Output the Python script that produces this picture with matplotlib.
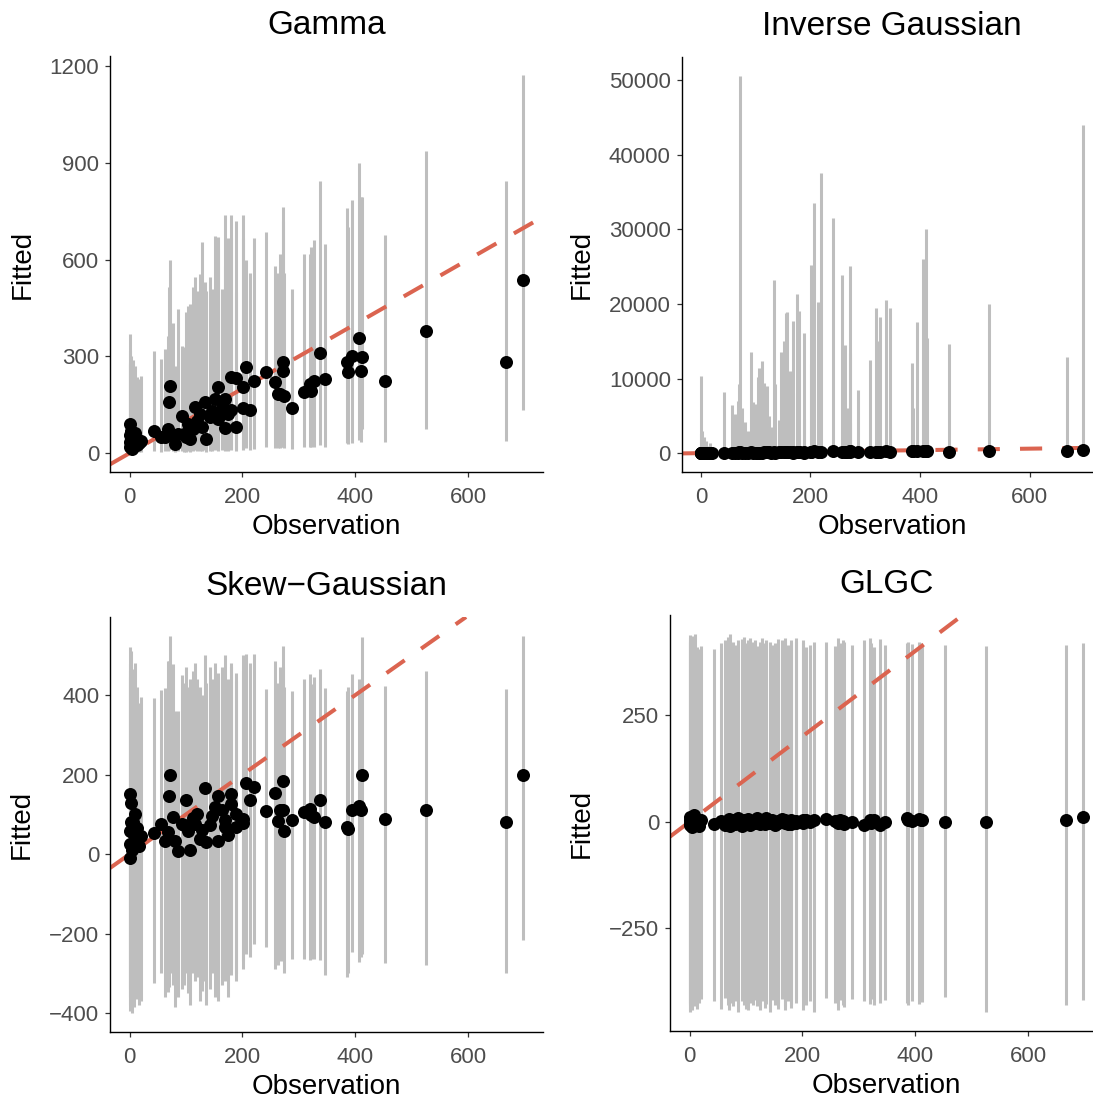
import matplotlib
matplotlib.use('Agg')
import matplotlib.pyplot as plt

plt.rcParams['font.family'] = ['Liberation Sans', 'DejaVu Sans']

# observed values (shared by all four models)
obs = [0, 0, 1, 1, 2, 3, 4, 5, 6, 8, 10, 13, 16, 20,
       43, 56, 62, 68, 70, 72, 76, 80, 86,
       92, 96, 100, 104, 107, 112, 115, 120, 124, 128, 133, 135, 142, 146, 151,
       156, 157, 163, 169, 169, 175, 180, 180, 188, 189, 201, 201, 207, 213, 220,
       242, 257, 263, 267, 272, 272, 273, 287,
       309, 319, 322, 327, 337, 346, 386, 387, 395, 406, 411, 412,
       452, 525, 668, 698]

# Gamma model: fitted value and interval
gamma_fit = [18, 35, 55, 90, 28, 69, 12, 45, 22, 40, 62, 25, 30, 38,
             69, 49, 49, 74, 160, 207, 54, 28, 60,
             116, 60, 49, 90, 43, 74, 142, 100, 121, 80, 157, 43, 111, 130, 168,
             204, 106, 140, 168, 78, 120, 235, 133, 232, 82, 139, 204, 268, 133, 223,
             252, 219, 183, 183, 283, 254, 178, 139,
             188, 214, 193, 224, 310, 230, 281, 253, 302, 357, 255, 297,
             224, 380, 284, 537]
gamma_lo = [2, 3, 4, 6, 2, 5, 1, 3, 2, 4, 5, 3, 3, 4,
            5, 4, 5, 6, 10, 12, 5, 3, 6,
            8, 3, 4, 6, 3, 5, 9, 7, 8, 5, 10, 3, 7, 8, 11,
            12, 7, 9, 11, 5, 8, 14, 9, 14, 5, 9, 12, 16, 9, 14,
            18, 17, 15, 16, 20, 20, 17, 12,
            18, 20, 18, 20, 25, 20, 30, 28, 32, 40, 35, 74,
            33, 74, 38, 133]
gamma_hi = [318, 369, 276, 281, 235, 300, 250, 290, 260, 240, 270, 235, 230, 240,
            318, 292, 323, 364, 514, 600, 405, 271, 447,
            333, 328, 437, 457, 462, 514, 545, 504, 556, 654, 530, 504, 545, 509, 674,
            669, 633, 509, 737, 581, 666, 737, 666, 720, 500, 737, 666, 600, 560, 666,
            687, 581, 560, 618, 762, 720, 560, 509,
            618, 618, 638, 662, 843, 649, 759, 700, 786, 899, 793, 793,
            677, 938, 843, 1173]

# Inverse Gaussian model
ig_fit = [20, 35, 50, 75, 30, 55, 15, 40, 25, 35, 55, 25, 30, 35,
          60, 45, 45, 65, 140, 180, 50, 25, 55,
          100, 55, 45, 80, 40, 65, 125, 90, 105, 70, 140, 40, 95, 115, 150,
          180, 95, 125, 150, 70, 105, 210, 120, 205, 75, 125, 180, 240, 120, 200,
          225, 195, 165, 165, 250, 225, 160, 125,
          170, 190, 170, 200, 275, 205, 250, 225, 270, 320, 230, 265,
          200, 340, 255, 480]
ig_lo = [1, 2, 3, 4, 2, 3, 1, 2, 1, 2, 3, 1, 2, 2,
         3, 2, 2, 3, 6, 8, 2, 1, 3,
         5, 3, 2, 4, 2, 3, 6, 4, 5, 3, 7, 2, 5, 6, 7,
         9, 5, 6, 7, 3, 5, 10, 6, 10, 4, 6, 9, 12, 6, 10,
         11, 9, 8, 8, 12, 11, 8, 6,
         8, 9, 8, 10, 13, 10, 12, 11, 13, 16, 11, 13,
         10, 17, 12, 24]
ig_hi = [700, 1500, 2600, 10340, 2000, 2990, 1200, 2200, 1800, 800, 1600, 900, 1300, 600,
         8240, 6460, 5210, 7000, 9220, 50580, 6100, 4190, 3000,
         13550, 6800, 6550, 10200, 11450, 12340, 9450, 9000, 5000, 3500, 23260, 9220, 4460, 13550, 15020,
         18800, 18940, 11000, 17780, 8000, 21340, 19000, 2500, 16130, 4630, 25270, 12000, 33510, 20280, 37610,
         31460, 23840, 14440, 6000, 25040, 4000, 13460, 8420,
         12480, 19470, 15020, 18270, 20590, 19430, 12120, 6000, 17560, 26070, 30030, 15460,
         14570, 20010, 12920, 43980]

# Skew-Gaussian model
sg_fit = [-9, 26, 59, 151, 80, 128, 11, 53, 80, 33, 100, 65, 20, 45,
          53, 76, 33, 55, 147, 199, 93, 33, 8,
          76, 74, 136, 59, 11, 90, 76, 100, 38, 60, 166, 30, 72, 95, 118,
          147, 34, 110, 69, 85, 49, 151, 125, 101, 68, 89, 78, 178, 136, 168,
          108, 153, 83, 110, 185, 111, 58, 86,
          105, 114, 99, 94, 136, 82, 68, 64, 111, 122, 110, 200,
          89, 110, 80, 200]
sg_lo = [-395, -380, -360, -340, -370, -350, -400, -375, -360, -385, -350, -365, -380, -370,
         -325, -300, -359, -346, -334, -300, -330, -384, -359,
         -340, -330, -300, -350, -380, -300, -320, -310, -370, -345, -320, -380, -340, -300, -360,
         -310, -370, -330, -320, -300, -360, -305, -290, -300, -320, -290, -270, -250, -260, -225,
         -233, -288, -280, -270, -233, -270, -300, -263,
         -263, -267, -263, -265, -267, -305, -309, -300, -246, -271, -260, -250,
         -275, -279, -298, -217]
sg_hi = [460, 478, 445, 520, 470, 510, 430, 455, 465, 440, 480, 420, 380, 395,
         392, 413, 419, 486, 486, 549, 478, 360, 360,
         450, 430, 470, 420, 440, 460, 480, 440, 420, 400, 500, 430, 470, 440, 480,
         455, 445, 470, 500, 430, 440, 470, 480, 455, 435, 460, 500, 503, 480, 503,
         415, 486, 430, 470, 524, 470, 420, 411,
         440, 453, 428, 445, 465, 419, 411, 420, 453, 440, 430, 545,
         423, 461, 415, 549]

# GLGC model
glgc_fit = [5, -3, 12, -8, 2, 8, -12, 6, -5, 15, -2, 3, -10, 4,
            -6, 2, -8, -4, 7, -11, 3, -6, 8,
            -9, 4, -3, 6, -7, 2, -4, 8, -5, 3, -6, 9, -3, 5, -7,
            2, -4, 6, -2, 4, -5, 3, -6, 1, -3, 5, -2, 4, -1, 3,
            6, 2, -4, 5, -3, 1, -6, 0,
            -7, 3, -2, 4, -8, -1, 9, 5, 2, 6, 3, 4,
            0, -1, 5, 10]
glgc_lo = [-440, -425, -445, -430, -420, -436, -440, -415, -428, -432, -410, -438, -425, -415,
           -420, -438, -412, -430, -440, -425, -432, -420, -445,
           -420, -430, -438, -440, -425, -430, -418, -432, -442, -420, -436, -428, -445, -418, -430,
           -438, -425, -415, -440, -432, -420, -428, -436, -425, -415, -440, -410, -430, -420, -445,
           -412, -425, -440, -418, -430, -420, -435, -415,
           -420, -428, -415, -430, -425, -418, -425, -430, -420, -428, -415, -422,
           -411, -446, -430, -418]
glgc_hi = [430, 420, 438, 425, 432, 428, 415, 435, 418, 422, 440, 410, 405, 412,
           405, 418, 425, 432, 430, 440, 420, 415, 425,
           428, 432, 418, 425, 430, 420, 426, 412, 420, 430, 418, 426, 422, 415, 418,
           428, 410, 425, 420, 430, 415, 418, 425, 420, 430, 418, 425, 410, 415, 420,
           420, 412, 430, 418, 425, 405, 420, 415,
           425, 430, 418, 410, 428, 415, 418, 422, 416, 420, 418, 414,
           415, 411, 414, 419]

W, H = 1093, 1099


def box(left, top, right, bottom):
    # pixel edges -> figure fraction
    return [left / W, 1 - bottom / H, (right - left) / W, (bottom - top) / H]


def draw_panel(ax, fit, lo, hi, title, yticks):
    ax.vlines(obs, lo, hi, color='#BEBEBE', lw=2.2, zorder=1)
    ax.scatter(obs, fit, s=88, color='black', linewidths=0, zorder=3)
    ax.margins(0.05)
    ax.axline((0, 0), slope=1, color='#DB6450', lw=2.9, ls=(0, (5.5, 5)), zorder=2)
    ax.set_xticks([0, 200, 400, 600])
    ax.set_yticks(yticks)
    for side in ['top', 'right']:
        ax.spines[side].set_visible(False)
    for side in ['left', 'bottom']:
        ax.spines[side].set_linewidth(1.0)
        ax.spines[side].set_color('black')
    ax.tick_params(length=3.8, width=0.9, color='#333333', labelcolor='#4D4D4D',
                   labelsize=16, pad=4)
    ax.tick_params(axis='x', pad=7)
    ax.set_title(title, fontsize=24, pad=16)
    ax.set_xlabel('Observation', fontsize=20, labelpad=4)
    ax.set_ylabel('Fitted', fontsize=20, labelpad=10)


fig = plt.figure(figsize=(W / 100, H / 100), dpi=100)

ax1 = fig.add_axes(box(110, 56, 543, 472))
draw_panel(ax1, gamma_fit, gamma_lo, gamma_hi, 'Gamma', [0, 300, 600, 900, 1200])

ax2 = fig.add_axes(box(681.7, 57, 1102.5, 472))
draw_panel(ax2, ig_fit, ig_lo, ig_hi, 'Inverse Gaussian',
           [0, 10000, 20000, 30000, 40000, 50000])

ax3 = fig.add_axes(box(110, 617, 543, 1032))
draw_panel(ax3, sg_fit, sg_lo, sg_hi, 'Skew\u2212Gaussian', [-400, -200, 0, 200, 400])

ax4 = fig.add_axes(box(670, 615, 1103, 1031))
draw_panel(ax4, glgc_fit, glgc_lo, glgc_hi, 'GLGC', [-250, 0, 250])

fig.savefig('out.png', dpi=100)
